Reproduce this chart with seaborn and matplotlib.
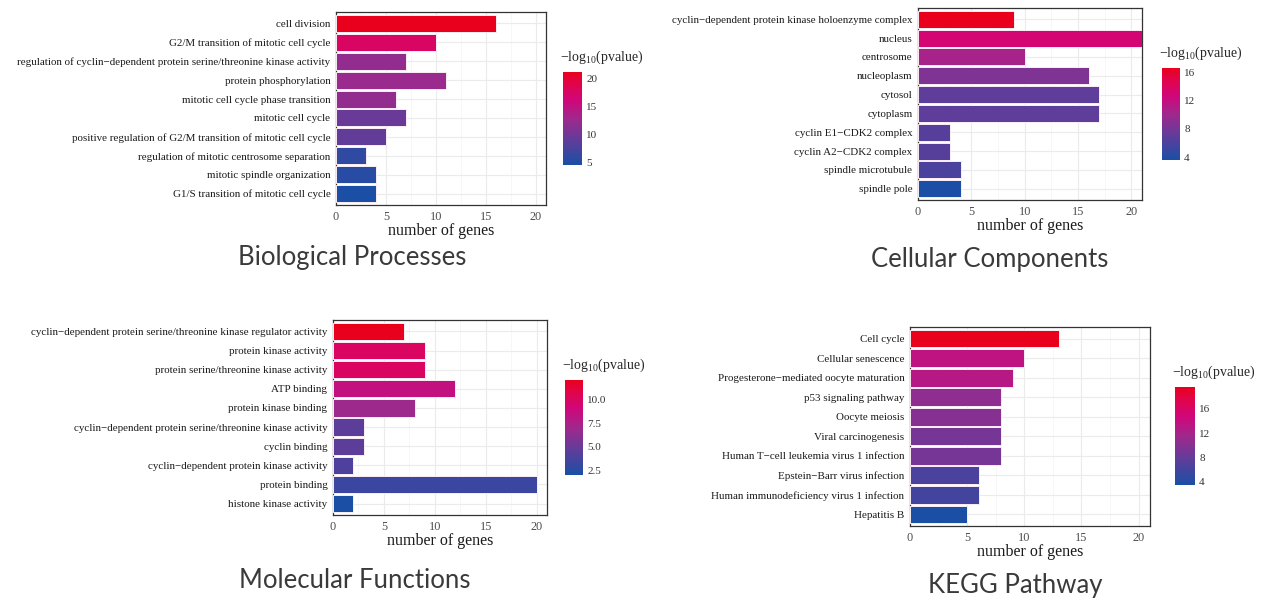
import numpy as np
import pandas as pd
import matplotlib
matplotlib.use("Agg")
import matplotlib.pyplot as plt
import seaborn as sns
from matplotlib.colors import LinearSegmentedColormap, Normalize
from matplotlib.cm import ScalarMappable

# ---------------- data ----------------
bp_terms = ["cell division", "G2/M transition of mitotic cell cycle",
            "regulation of cyclin\u2212dependent protein serine/threonine kinase activity",
            "protein phosphorylation", "mitotic cell cycle phase transition",
            "mitotic cell cycle", "positive regulation of G2/M transition of mitotic cell cycle",
            "regulation of mitotic centrosome separation", "mitotic spindle organization",
            "G1/S transition of mitotic cell cycle"]
bp_counts = [16, 10, 7, 11, 6, 7, 5, 3, 4, 4]
bp_logp = [21.1, 17.5, 12.0, 12.5, 12.0, 9.5, 9.0, 6.0, 5.5, 4.6]
bp_ticks = [5, 10, 15, 20]

cc_terms = ["cyclin\u2212dependent protein kinase holoenzyme complex", "nucleus", "centrosome",
            "nucleoplasm", "cytosol", "cytoplasm", "cyclin E1\u2212CDK2 complex",
            "cyclin A2\u2212CDK2 complex", "spindle microtubule", "spindle pole"]
cc_counts = [9, 21, 10, 16, 17, 17, 3, 3, 4, 4]
cc_logp = [16.6, 13.0, 10.5, 8.5, 7.0, 7.0, 6.5, 6.5, 6.0, 3.6]
cc_ticks = [4, 8, 12, 16]

mf_terms = ["cyclin\u2212dependent protein serine/threonine kinase regulator activity",
            "protein kinase activity", "protein serine/threonine kinase activity",
            "ATP binding", "protein kinase binding",
            "cyclin\u2212dependent protein serine/threonine kinase activity",
            "cyclin binding", "cyclin\u2212dependent protein kinase activity",
            "protein binding", "histone kinase activity"]
mf_counts = [7, 9, 9, 12, 8, 3, 3, 2, 20, 2]
mf_logp = [12.1, 10.0, 10.0, 8.5, 7.0, 4.5, 4.5, 4.0, 3.3, 2.0]
mf_ticks = [2.5, 5.0, 7.5, 10.0]

kegg_terms = ["Cell cycle", "Cellular senescence", "Progesterone\u2212mediated oocyte maturation",
              "p53 signaling pathway", "Oocyte meiosis", "Viral carcinogenesis",
              "Human T\u2212cell leukemia virus 1 infection", "Epstein\u2212Barr virus infection",
              "Human immunodeficiency virus 1 infection", "Hepatitis B"]
kegg_counts = [13, 10, 9, 8, 8, 8, 8, 6, 6, 5]
kegg_logp = [19.6, 13.5, 13.0, 10.5, 10.0, 9.0, 9.0, 6.5, 6.0, 3.5]
kegg_ticks = [4, 8, 12, 16]

x_ticks = [0, 5, 10, 15, 20]

# ---------------- style ----------------
sns.set_style("white")
plt.rcParams["font.family"] = ["Liberation Serif", "DejaVu Serif"]
plt.rcParams["mathtext.default"] = "regular"

# blue -> purple -> magenta -> red
cmap = LinearSegmentedColormap.from_list(
    "pval", [(0.0, "#1a4fa5"), (0.3, "#6a3a98"), (0.5, "#a0288c"),
             (0.7, "#d0067a"), (0.88, "#e20448"), (1.0, "#e8001c")], N=256)

W, H = 1263, 601
fig = plt.figure(figsize=(W / 100, H / 100), dpi=100)


def rect(l, t, r, b):
    return [l / W, 1 - b / H, (r - l) / W, (b - t) / H]


def panel(terms, counts, logp, cticks, ax_box, cb_box, title, title_xy, cfmt):
    ax = fig.add_axes(rect(*ax_box))
    norm = Normalize(min(logp), max(logp))
    df = pd.DataFrame({"term": terms, "count": counts, "logp": logp})
    pal = {t: cmap(norm(v)) for t, v in zip(terms, logp)}
    sns.barplot(data=df, x="count", y="term", hue="term", palette=pal,
                legend=False, orient="h", width=0.9, edgecolor="#fbeef6",
                linewidth=0.7, saturation=1, ax=ax, zorder=3)
    ax.set_xlim(0, 21)
    ax.set_ylim(9.6, -0.6)
    ax.set_xticks(x_ticks)
    ax.set_xticks([2.5, 7.5, 12.5, 17.5], minor=True)
    ax.grid(True, which="major", color="#ebebeb", lw=0.8, zorder=0)
    ax.grid(True, which="minor", axis="x", color="#f4f4f4", lw=0.5, zorder=0)
    ax.set_axisbelow(True)
    for s in ax.spines.values():
        s.set_color("#333333")
        s.set_linewidth(0.9)
    ax.tick_params(axis="both", which="major", length=2.5, width=0.6,
                   color="#333333", labelsize=7.9, labelcolor="#1a1a1a", pad=1.5)
    ax.tick_params(axis="x", labelcolor="#4d4d4d", labelsize=8.8)
    ax.tick_params(which="minor", length=0)
    ax.set_ylabel("")
    ax.set_xlabel("number of genes", fontsize=11.5, color="#1a1a1a", labelpad=0)

    cax = fig.add_axes(rect(*cb_box))
    cb = fig.colorbar(ScalarMappable(norm=norm, cmap=cmap), cax=cax)
    cb.outline.set_visible(False)
    cb.set_ticks(cticks)
    cb.set_ticklabels([cfmt.format(t) for t in cticks])
    cax.tick_params(length=3, width=0.6, color="white", direction="in",
                    left=True, labelsize=8, labelcolor="#333333", pad=3)
    cax.set_title("\u2212log$_{10}$(pvalue)", fontsize=10, loc="left",
                  pad=8, x=-0.15)
    fig.text(title_xy[0] / W, 1 - title_xy[1] / H, title, family="Lato",
             fontsize=18.5, color="#3a3a3a", ha="center", va="center")


panel(bp_terms, bp_counts, bp_logp, bp_ticks, (336, 12, 546, 205),
      (563, 72, 582, 165), "Biological Processes", (352, 257), "{:g}")
panel(cc_terms, cc_counts, cc_logp, cc_ticks, (918, 8, 1142, 200),
      (1162, 68, 1180, 160), "Cellular Components", (990, 259), "{:g}")
panel(mf_terms, mf_counts, mf_logp, mf_ticks, (333, 320, 547, 515),
      (565, 380, 583, 475), "Molecular Functions", (355, 581), "{:.1f}")
panel(kegg_terms, kegg_counts, kegg_logp, kegg_ticks, (910, 327, 1150, 526),
      (1175, 387, 1195, 485), "KEGG Pathway", (1015, 585), "{:g}")

fig.savefig("out.png", dpi=100)
